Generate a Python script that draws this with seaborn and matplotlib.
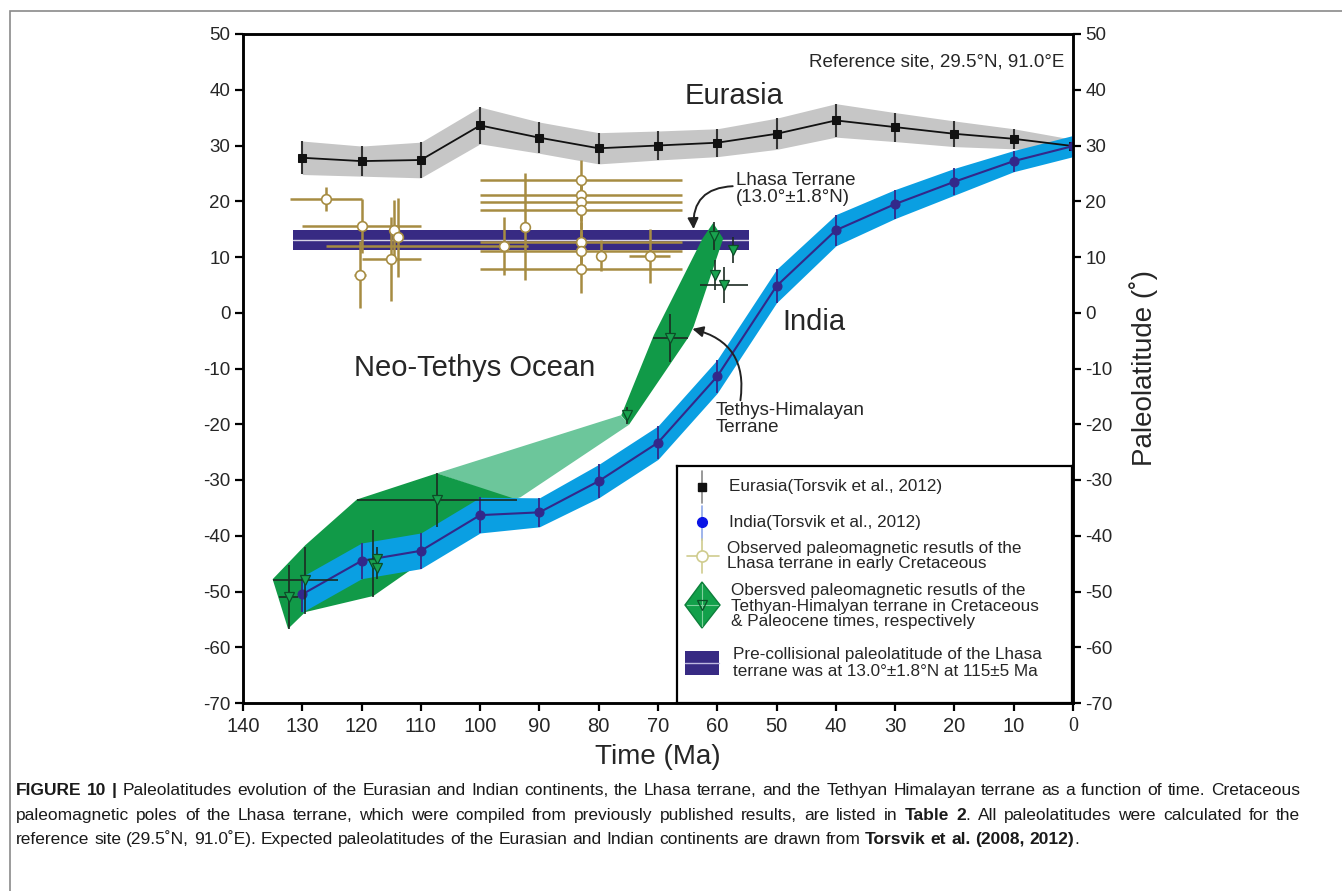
import matplotlib
matplotlib.use("Agg")
import matplotlib.pyplot as plt
import seaborn as sns
import numpy as np
import pandas as pd
from matplotlib.patches import Polygon, Rectangle

# Expected paleolatitudes at the reference site (Torsvik et al., 2012)
ages = [130, 120, 110, 100, 90, 80, 70, 60, 50, 40, 30, 20, 10, 0]
eurasia_lat = [27.8, 27.2, 27.4, 33.6, 31.4, 29.5, 30.0, 30.5, 32.1, 34.5, 33.3, 32.1, 31.2, 29.9]
eurasia_a95 = [3.0, 2.7, 3.2, 3.3, 2.8, 2.8, 2.6, 2.5, 2.8, 3.0, 2.6, 2.3, 1.8, 1.2]
india_lat = [-50.5, -44.5, -42.7, -36.3, -35.8, -30.2, -23.3, -11.4, 4.8, 14.8, 19.5, 23.5, 27.2, 29.9]
india_a95 = [3.2, 3.2, 3.2, 3.2, 2.6, 3.0, 3.0, 3.0, 3.0, 2.8, 2.6, 2.4, 1.9, 1.9]

# Lhasa terrane, early Cretaceous results
lhasa_age = [126.0, 120.0, 120.2, 115.0, 114.6, 113.9, 96.0, 92.4, 83.0, 83.0, 83.0, 83.0, 83.0, 83.0, 83.0, 79.6, 71.4]
lhasa_lat = [20.4, 15.6, 6.8, 9.6, 14.8, 13.5, 12.0, 15.4, 23.8, 21.1, 19.9, 18.5, 12.7, 11.1, 7.8, 10.2, 10.2]
lhasa_age_old = [6.0, 10.0, 1.0, 5.0, 0.0, 0.0, 4.0, 0.0, 17.0, 17.0, 17.0, 17.0, 17.0, 17.0, 17.0, 0.0, 3.5]
lhasa_age_young = [6.0, 10.0, 1.0, 5.0, 0.0, 0.0, 30.0, 0.0, 17.0, 17.0, 17.0, 17.0, 17.0, 17.0, 17.0, 0.0, 3.5]
lhasa_a95 = [2.2, 4.8, 6.0, 7.5, 5.5, 7.0, 5.2, 9.6, 3.6, 3.5, 3.5, 3.5, 3.5, 3.5, 4.3, 2.8, 4.9]

# Tethyan Himalaya results
th_age = [132.3, 129.5, 118.0, 117.4, 117.4, 107.3, 75.2, 67.9, 60.6, 57.4, 60.4, 58.9]
th_lat = [-51.0, -48.0, -45.0, -44.1, -45.8, -33.6, -18.4, -4.6, 13.7, 11.2, 6.8, 5.0]
th_age_err = [1.6, 5.5, 0.0, 0.0, 0.0, 13.5, 0.0, 3.0, 0.0, 0.0, 0.0, 4.0]
th_a95 = [5.7, 6.0, 6.0, 2.0, 2.0, 4.8, 1.5, 4.3, 2.5, 2.3, 2.7, 3.2]

# envelopes of the Tethyan Himalaya results
cret_env_age = [135.0, 129.5, 120.8, 107.3, 93.8, 111.8, 118.0, 129.5, 132.4]
cret_env_lat = [-47.8, -41.7, -33.5, -28.8, -33.5, -46.2, -50.8, -53.7, -56.7]
gap_env_age = [107.3, 76.3, 74.9, 93.2, 94.5]
gap_env_lat = [-28.8, -18.4, -20.1, -33.1, -33.5]
paleo_env_age = [76.2, 70.7, 62.5, 60.7, 59.0, 64.0, 64.8, 74.9]
paleo_env_lat = [-18.4, -4.0, 13.3, 16.1, 13.3, -2.5, -4.3, -20.1]

# pre-collisional Lhasa paleolatitude
lhasa_ref_lat = 13.0
lhasa_ref_err = 1.8
lhasa_ref_span = (131.5, 54.7)

W, H = 1342, 891
tan = '#a68c42'
dark_green = '#119a48'
light_green = '#6cc69b'
band_blue = '#0a9fe2'
navy = '#33288a'
purple = '#372a83'

sns.set_theme(style="ticks")
plt.rcParams['font.family'] = ['Liberation Sans', 'DejaVu Sans']
plt.rcParams['axes.unicode_minus'] = False

fig = plt.figure(figsize=(W / 100, H / 100), dpi=100)
ax = fig.add_axes([243 / W, 1 - 703 / H, (1073 - 243) / W, (703 - 34) / H])

eu = pd.DataFrame({'age': ages, 'lat': eurasia_lat, 'err': eurasia_a95})
ind = pd.DataFrame({'age': ages, 'lat': india_lat, 'err': india_a95})

# bands
ax.fill_between(eu['age'], eu['lat'] - eu['err'], eu['lat'] + eu['err'], color='#c6c6c6', lw=0, zorder=1)
ax.fill_between([lhasa_ref_span[0], lhasa_ref_span[1]], lhasa_ref_lat - lhasa_ref_err,
                lhasa_ref_lat + lhasa_ref_err, color=purple, lw=0, zorder=1.5)
ax.plot([lhasa_ref_span[0], lhasa_ref_span[1]], [lhasa_ref_lat, lhasa_ref_lat], color='white', lw=1.0, alpha=0.8, zorder=1.6)

# Lhasa results
ax.errorbar(lhasa_age, lhasa_lat, xerr=[lhasa_age_old, lhasa_age_young], yerr=lhasa_a95,
            fmt='o', ms=7, mfc='white', mec=tan, mew=1.2, ecolor=tan, elinewidth=1.8, capsize=0, zorder=2)

# Tethyan Himalaya envelopes
ax.add_patch(Polygon(np.column_stack([gap_env_age, gap_env_lat]), closed=True, fc=light_green, ec='none', zorder=2.5))
ax.add_patch(Polygon(np.column_stack([cret_env_age, cret_env_lat]), closed=True, fc=dark_green, ec='none', zorder=2.6))
ax.add_patch(Polygon(np.column_stack([paleo_env_age, paleo_env_lat]), closed=True, fc=dark_green, ec='none', zorder=2.6))

ax.fill_between(ind['age'], ind['lat'] - ind['err'], ind['lat'] + ind['err'], color=band_blue, lw=0, zorder=3)

# Eurasia & India curves
ax.errorbar(eu['age'], eu['lat'], yerr=eu['err'], fmt='none', ecolor='#333333', elinewidth=1.5, zorder=3.5)
sns.lineplot(data=eu, x='age', y='lat', ax=ax, color='#111111', lw=1.3, marker='s', ms=6,
             mec='#111111', mfc='#111111', zorder=4, estimator=None, sort=False)
ax.errorbar(ind['age'], ind['lat'], yerr=ind['err'], fmt='none', ecolor=navy, elinewidth=1.3, zorder=3.5)
sns.lineplot(data=ind, x='age', y='lat', ax=ax, color=navy, lw=1.5, marker='o', ms=6.5,
             mec=navy, mfc=navy, zorder=4, estimator=None, sort=False)

ax.errorbar(th_age, th_lat, xerr=th_age_err, yerr=th_a95, fmt='v', ms=7.5, mfc='#19a24f', mec='#0b4d27',
            mew=0.9, ecolor='#1c2b22', elinewidth=1.2, capsize=0, zorder=5)

ax.set_xlim(140, 0)
ax.set_ylim(-70, 50)
ax.set_xticks(np.arange(140, -1, -10))
ax.set_yticks(np.arange(-70, 51, 10))
ax.set_xlabel('Time (Ma)', fontsize=20, labelpad=6)
ax.set_ylabel('')
for s in ax.spines.values():
    s.set_visible(True)
    s.set_color('black')
    s.set_linewidth(1.8)
ax.tick_params(axis='x', labelsize=14.5, length=6, width=1.6, color='black', pad=4, top=False)
ax.tick_params(axis='y', labelsize=13.5, length=6, width=1.6, color='black', pad=3)
ax.set_xticklabels([str(v) for v in range(140, -1, -10)])
ax.get_xticklabels()[-1].set_fontfamily(['Liberation Serif'])

ax2 = ax.twinx()
ax2.set_ylim(-70, 50)
ax2.set_yticks(np.arange(-70, 51, 10))
ax2.tick_params(axis='y', labelsize=13.5, length=6, width=1.6, color='black', pad=3)
ax2.set_ylabel('Paleolatitude (˚)', fontsize=20, labelpad=12)
for s in ax2.spines.values():
    s.set_linewidth(1.8)
    s.set_color('black')

# annotations
ax.text(1.5, 45, 'Reference site, 29.5°N, 91.0°E', fontsize=13.5, ha='right', va='center')
ax.text(57.2, 38.9, 'Eurasia', fontsize=21, ha='center', va='center')
ax.text(101.0, -9.9, 'Neo-Tethys Ocean', fontsize=21, ha='center', va='center')
ax.text(43.7, -1.7, 'India', fontsize=21, ha='center', va='center')
ax.text(56.9, 22.2, 'Lhasa Terrane\n(13.0°±1.8°N)', fontsize=13.5, ha='left', va='center', linespacing=1.0)
ax.text(60.3, -19.1, 'Tethys-Himalayan\nTerrane', fontsize=13.5, ha='left', va='center', linespacing=1.0)
ax.annotate('', xy=(64.0, 15.0), xytext=(57.4, 22.7),
            arrowprops=dict(arrowstyle='-|>', color='#222222', lw=1.4, mutation_scale=16,
                            connectionstyle='arc3,rad=0.5', shrinkA=0, shrinkB=0), zorder=6)
ax.annotate('', xy=(64.2, -2.9), xytext=(56.1, -15.7),
            arrowprops=dict(arrowstyle='-|>', color='#222222', lw=1.4, mutation_scale=16,
                            connectionstyle='arc3,rad=0.45', shrinkA=0, shrinkB=0), zorder=6)

# legend box, drawn in its own pixel frame
lg = fig.add_axes([677 / W, 1 - 703 / H, 395 / W, 237 / H])
lg.set_xlim(0, 395)
lg.set_ylim(237, 0)
lg.set_xticks([])
lg.set_yticks([])
for s in lg.spines.values():
    s.set_color('black')
    s.set_linewidth(1.6)
fs = 12.3
lg.plot([25, 25], [5, 37], color='#888888', lw=1.2)
lg.plot([25], [21], 's', color='#111111', ms=6)
lg.text(52, 21, 'Eurasia(Torsvik et al., 2012)', fontsize=fs, va='center')
lg.plot([25, 25], [40, 74], color='#8fa8e8', lw=1.2)
lg.plot([25], [56], 'o', color='#0a14e6', ms=7)
lg.text(52, 56, 'India(Torsvik et al., 2012)', fontsize=fs, va='center')
lg.plot([10, 42], [90, 90], color='#cfcc8e', lw=1.2)
lg.plot([25, 25], [73, 107], color='#cfcc8e', lw=1.2)
lg.plot([25], [90], 'o', mfc='white', mec='#cfcc8e', ms=8, mew=1.2)
lg.text(50, 90, 'Observed paleomagnetic resutls of the\nLhasa terrane in early Cretaceous',
        fontsize=fs, va='center', linespacing=1.05)
lg.add_patch(Polygon([(25, 116), (43, 139), (25, 162), (8, 139)], closed=True, fc='#12a04a', ec='#0d7f3b', lw=1))
lg.plot([25, 25], [118, 160], color='#7fd09c', lw=0.8)
lg.plot([10, 41], [139, 139], color='#7fd09c', lw=0.8)
lg.plot([25], [139], 'v', mfc='none', mec='#0b4d27', ms=7, mew=0.9)
lg.text(54, 140, 'Obersved paleomagnetic resutls of the\nTethyan-Himalyan terrane in Cretaceous\n& Paleocene times, respectively',
        fontsize=fs, va='center', linespacing=1.05)
lg.add_patch(Rectangle((8, 185), 34, 24, fc=purple, ec='none'))
lg.plot([8, 42], [196.5, 196.5], color='#bdb8e0', lw=1)
lg.text(56, 197, 'Pre-collisional paleolatitude of the Lhasa\nterrane was at 13.0°±1.8°N at 115±5 Ma',
        fontsize=fs, va='center', linespacing=1.1)

# page frame
fig.add_artist(Rectangle((9.5 / W, -0.05), 1.2, 1 - 10.5 / H + 0.05, transform=fig.transFigure,
                         fill=False, ec='#8a8a8a', lw=1.2))

# caption (justified)
cap_lines = [
    ([('FIGURE 10 |', True), ('Paleolatitudes evolution of the Eurasian and Indian continents, the Lhasa terrane, and the Tethyan Himalayan terrane as a function of time. Cretaceous', False)], True),
    ([('paleomagnetic poles of the Lhasa terrane, which were compiled from previously published results, are listed in', False), ('Table 2', True), ('. All paleolatitudes were calculated for the', False)], True),
    ([('reference site (29.5˚N, 91.0˚E). Expected paleolatitudes of the Eurasian and Indian continents are drawn from', False), ('Torsvik et al. (2008, 2012)', True), ('.', False)], False),
]
cap_base = [795, 820, 844]
cap_fs = 12.5
renderer = fig.canvas.get_renderer()


def measure(s, bold):
    t = fig.text(0, 0, s, fontsize=cap_fs, fontweight='bold' if bold else 'normal')
    w = t.get_window_extent(renderer).width
    t.remove()
    return w


space_w = measure('a a', False) - measure('aa', False)
x_left, x_right = 16, 1300
for (segs, justify), yp in zip(cap_lines, cap_base):
    items = []
    for txt, bold in segs:
        for p in txt.split(' '):
            if p == '':
                continue
            if p.startswith('.') and items:
                items[-1].append((p, bold))
            else:
                items.append([(p, bold)])
    widths = [sum(measure(p, b) for p, b in it) for it in items]
    total = sum(widths)
    gap = (x_right - x_left - total) / (len(items) - 1) if justify else space_w
    gap = max(gap, 2.0)
    x = x_left
    for it, w in zip(items, widths):
        xx = x
        for p, b in it:
            fig.text(xx / W, 1 - yp / H, p, fontsize=cap_fs, fontweight='bold' if b else 'normal',
                     va='baseline', ha='left', color='#1a1a1a')
            xx += measure(p, b)
        x += w + gap

fig.savefig('out.png', dpi=100)
